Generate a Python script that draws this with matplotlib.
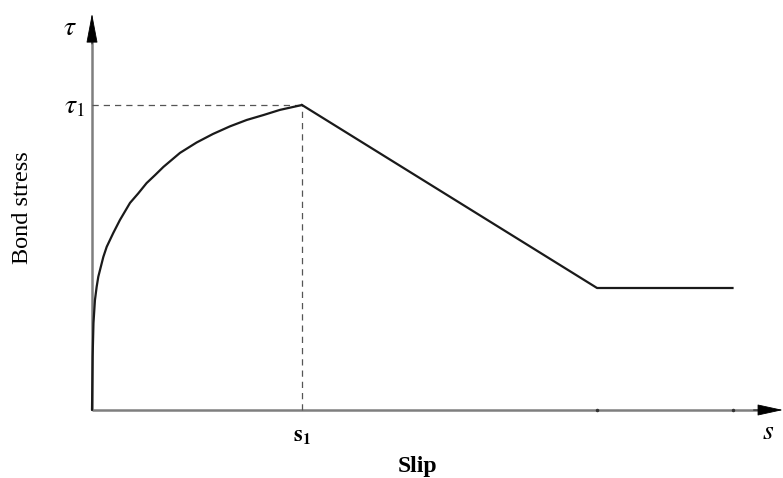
import matplotlib
matplotlib.use('Agg')
import matplotlib.pyplot as plt

plt.rcParams['mathtext.fontset'] = 'stix'

# bond-slip curve, slip in units of s1, stress in units of tau1
slip_rise = [0.0, 0.003, 0.007, 0.014, 0.022, 0.030, 0.054, 0.070, 0.101,
             0.133, 0.181, 0.220, 0.260, 0.300, 0.340, 0.419, 0.498, 0.576,
             0.657, 0.737, 0.816, 0.895, 1.0]
stress_rise = [0.0, 0.175, 0.285, 0.360, 0.403, 0.437, 0.502, 0.535, 0.580,
               0.623, 0.679, 0.710, 0.744, 0.770, 0.797, 0.843, 0.877, 0.905,
               0.930, 0.951, 0.967, 0.984, 1.0]
slip_soft = [1.0, 2.405, 3.05]
stress_soft = [1.0, 0.40, 0.40]
tick_slips = [2.405, 3.05]

axis_col = '#7f7f7f'
line_col = '#1a1a1a'

fig = plt.figure(figsize=(7.83, 4.78), dpi=100)
ax = fig.add_axes([0, 0, 1, 1])
ax.set_xlim(-92 / 210, 691 / 210)
ax.set_ylim(-68 / 305, 410 / 305)
ax.axis('off')

# axis lines
ax.plot([0, 3.20], [0, 0], color=axis_col, lw=1.8, solid_capstyle='butt')
ax.plot([0, 0], [0, 1.25], color=axis_col, lw=1.8, solid_capstyle='butt')
# black arrow heads
ax.annotate('', xy=(3.29, 0), xytext=(3.15, 0),
            arrowprops=dict(arrowstyle='-|>,head_length=1.65,head_width=0.36',
                            color='black', lw=0.6, shrinkA=0, shrinkB=0))
ax.annotate('', xy=(0, 1.30), xytext=(0, 1.20),
            arrowprops=dict(arrowstyle='-|>,head_length=1.9,head_width=0.36',
                            color='black', lw=0.6, shrinkA=0, shrinkB=0))

# dashed guides to the peak
ax.plot([0, 1], [1, 1], color='#555555', lw=0.9, ls=(0, (5, 4)))
ax.plot([1, 1], [0, 1], color='#555555', lw=0.9, ls=(0, (5, 4)))

ax.plot(slip_rise, stress_rise, color=line_col, lw=1.6,
        solid_capstyle='round', solid_joinstyle='round')
ax.plot(slip_soft, stress_soft, color=line_col, lw=1.6,
        solid_joinstyle='round')
ax.plot(tick_slips, [0] * len(tick_slips), 'o', color='#333333', ms=1.5)

ax.text(-0.105, 1.255, r'$\tau$', fontsize=20, ha='center', va='center')
ax.text(-0.085, 1.0, r'$\tau_{\mathit{1}}$', fontsize=20, ha='center', va='center')
ax.text(1.0, -0.09, r'$\mathbf{s_1}$', fontsize=16, ha='center', va='center')
ax.text(3.22, -0.07, r'$s$', fontsize=20, ha='center', va='center')
ax.text(1.55, -0.185, 'Slip', fontsize=17, fontweight='bold',
        family='Liberation Serif', ha='center', va='center')
ax.text(-0.33, 0.665, 'Bond stress', fontsize=17.5, rotation=90,
        family='Liberation Serif', ha='center', va='center')

fig.savefig('out.png', dpi=100)
